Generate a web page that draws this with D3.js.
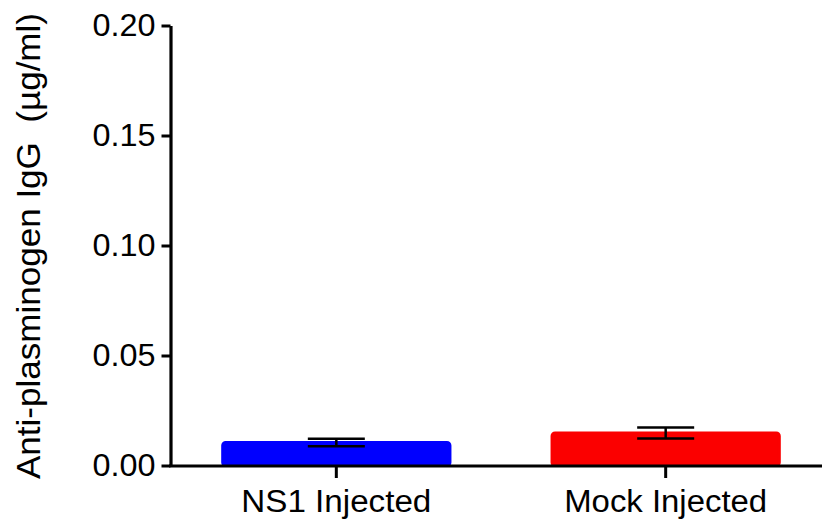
<!DOCTYPE html>
<html>
<head>
<meta charset="utf-8">
<script src="https://cdn.jsdelivr.net/npm/d3@7"></script>
<style>
  body { margin: 0; background: #fff; }
  text { font-family: "Liberation Sans", Arial, sans-serif; fill: #000; }
</style>
</head>
<body>
<svg id="chart" width="822" height="523"></svg>
<script>
// data
var groups = ["NS1 Injected", "Mock Injected"];
var means = [0.0105, 0.0148];
var sems = [0.0017, 0.0025];
var barColors = ["#0000ff", "#fb0000"];
var yTicks = [0, 0.05, 0.10, 0.15, 0.20];
var yTitle = "Anti-plasminogen IgG  (\u00b5g/ml)";

var svg = d3.select("#chart");

var x = d3.scaleBand()
  .domain(groups)
  .range([170, 832])
  .paddingInner(0.31)
  .paddingOuter(0.16);

var y = d3.scaleLinear()
  .domain([0, 0.2])
  .range([465.5, 25.5]);

// bars (with thin border of the same colour, like prism draws them)
svg.selectAll(".bar")
  .data(groups)
  .enter()
  .append("rect")
  .attr("class", "bar")
  .attr("x", function(d) { return x(d); })
  .attr("y", function(d, i) { return y(means[i]); })
  .attr("width", x.bandwidth())
  .attr("height", function(d, i) { return y(0) - y(means[i]); })
  .attr("rx", 3)
  .attr("fill", function(d, i) { return barColors[i]; })
  .attr("stroke", function(d, i) { return barColors[i]; })
  .attr("stroke-width", 3);

// error bars
var capW = 57;
var err = svg.append("g")
  .attr("stroke", "#000")
  .attr("stroke-width", 2.5);

groups.forEach(function(g, i) {
  var cx = x(g) + x.bandwidth() / 2;
  var top = y(means[i] + sems[i]);
  var bot = y(means[i] - sems[i]);
  err.append("line").attr("x1", cx).attr("x2", cx).attr("y1", top).attr("y2", bot);
  err.append("line").attr("x1", cx - capW / 2).attr("x2", cx + capW / 2).attr("y1", top).attr("y2", top);
  err.append("line").attr("x1", cx - capW / 2).attr("x2", cx + capW / 2).attr("y1", bot).attr("y2", bot);
});

// y axis
var yAxis = svg.append("g")
  .attr("transform", "translate(170.5,0)")
  .call(d3.axisLeft(y).tickValues(yTicks).tickFormat(d3.format(".2f")).tickSize(9).tickSizeOuter(0).tickPadding(6));

yAxis.select(".domain").attr("stroke-width", 3.2);
yAxis.selectAll(".tick line").attr("stroke-width", 3);
yAxis.selectAll(".tick text")
  .attr("font-size", 31)
  .attr("textLength", 63)
  .attr("lengthAdjust", "spacingAndGlyphs");

// x axis
var xAxis = svg.append("g")
  .attr("transform", "translate(0,466)")
  .call(d3.axisBottom(x).tickSize(12).tickSizeOuter(0).tickPadding(12));

xAxis.select(".domain").attr("d", "M169,0H822").attr("stroke-width", 3.2);
xAxis.selectAll(".tick line").attr("stroke-width", 3);
xAxis.selectAll(".tick text")
  .attr("font-size", 31)
  .attr("textLength", function(d) { return d === "NS1 Injected" ? 190 : 203; })
  .attr("lengthAdjust", "spacingAndGlyphs");

// y title
svg.append("text")
  .attr("transform", "translate(40,246) rotate(-90)")
  .attr("text-anchor", "middle")
  .attr("font-size", 34)
  .attr("xml:space", "preserve")
  .style("white-space", "pre")
  .attr("textLength", 466)
  .attr("lengthAdjust", "spacingAndGlyphs")
  .text(yTitle);
</script>
</body>
</html>
